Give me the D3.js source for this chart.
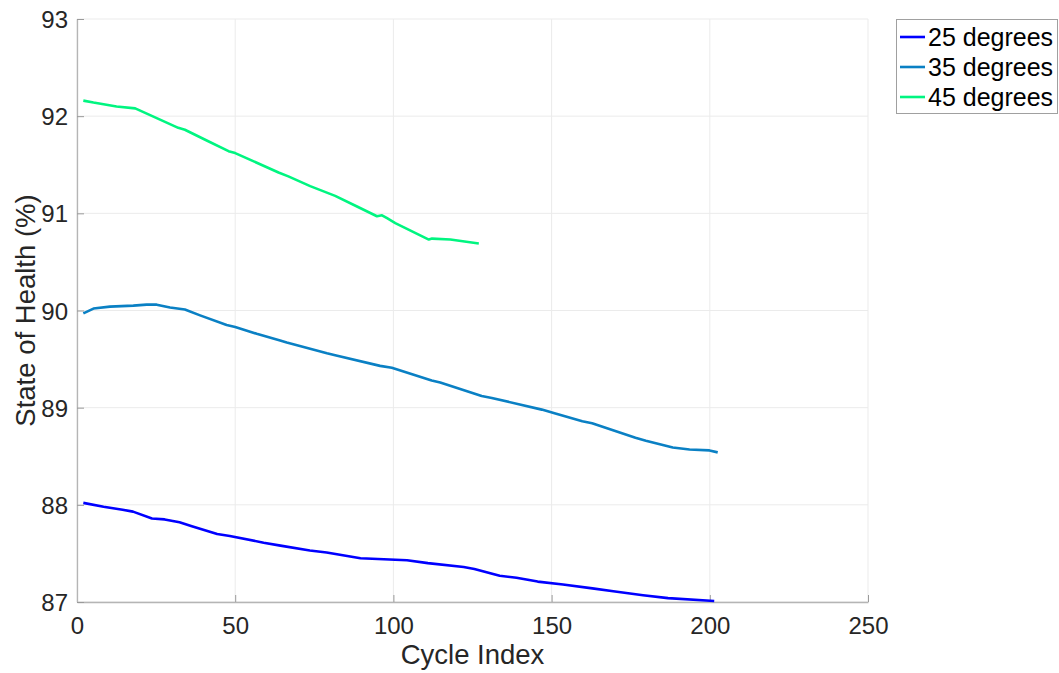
<!DOCTYPE html>
<html lang="en">
<head>
  <meta charset="utf-8" />
  <script src="https://d3js.org/d3.v7.min.js"></script>
  <style>
    html, body { margin: 0; padding: 0; background: #fff; }
    text { font-family: "Liberation Sans", Arial, sans-serif; }
  </style>
</head>
<body>
<svg id="canvas" width="1059" height="673"></svg>
<script>
// cycle index / state of health (%)
var cyc25 = [2, 8.4, 14.4, 17.7, 23.7, 27.7, 32.4, 36.3, 44.3, 48.3, 59, 64.3, 73.6, 78.9, 89.6, 104.3, 110.9, 122.2, 125.6, 133.6, 138.9, 145.6, 153.6, 162.9, 169.5, 178.9, 186.8, 201.4];
var soh25 = [88.02, 87.98, 87.95, 87.93, 87.86, 87.85, 87.82, 87.78, 87.70, 87.68, 87.61, 87.58, 87.53, 87.51, 87.45, 87.43, 87.40, 87.36, 87.34, 87.27, 87.25, 87.21, 87.18, 87.14, 87.11, 87.07, 87.04, 87.01];

var cyc35 = [2, 5.2, 10.4, 17.8, 22, 25.2, 29.4, 34.1, 38.9, 47.3, 50, 56.8, 64.2, 66.3, 79, 81.6, 95.8, 99.5, 112.1, 114.8, 127.9, 131.1, 146.9, 151.2, 159.7, 162.8, 176.5, 179.8, 188.3, 193.6, 199.9, 202.5];
var soh35 = [89.97, 90.02, 90.04, 90.05, 90.06, 90.06, 90.03, 90.01, 89.95, 89.85, 89.83, 89.76, 89.69, 89.67, 89.56, 89.54, 89.43, 89.41, 89.28, 89.26, 89.12, 89.10, 88.98, 88.94, 88.86, 88.84, 88.69, 88.66, 88.59, 88.57, 88.56, 88.54];

var cyc45 = [2, 5.2, 12.5, 18.4, 32, 34.1, 41, 47.9, 50, 63.7, 66.8, 73.7, 81.6, 88.5, 94.8, 96.4, 98, 100.6, 111.2, 112.2, 118, 127];
var soh45 = [92.16, 92.14, 92.10, 92.08, 91.88, 91.86, 91.75, 91.64, 91.62, 91.42, 91.38, 91.28, 91.18, 91.07, 90.97, 90.98, 90.95, 90.90, 90.73, 90.74, 90.73, 90.69];

var seriesNames = ["25 degrees", "35 degrees", "45 degrees"];
var seriesColors = ["#0000ff", "#0a80c4", "#00f580"];
var xTicks = [0, 50, 100, 150, 200, 250];
var yTicks = [87, 88, 89, 90, 91, 92, 93];

var series = [
  { name: seriesNames[0], color: seriesColors[0], x: cyc25, y: soh25 },
  { name: seriesNames[1], color: seriesColors[1], x: cyc35, y: soh35 },
  { name: seriesNames[2], color: seriesColors[2], x: cyc45, y: soh45 }
];

var svg = d3.select("#canvas");
var pLeft = 77, pRight = 868, pTop = 19, pBottom = 602;

var x = d3.scaleLinear().domain([0, 250]).range([pLeft, pRight]);
var y = d3.scaleLinear().domain([87, 93]).range([pBottom, pTop]);

// grid
var grid = svg.append("g");
grid.selectAll(".gx").data(xTicks).enter().append("line")
  .attr("x1", d => x(d)).attr("x2", d => x(d))
  .attr("y1", pTop).attr("y2", pBottom)
  .attr("stroke", "#ebebeb").attr("stroke-width", 1);
grid.selectAll(".gy").data(yTicks).enter().append("line")
  .attr("x1", pLeft).attr("x2", pRight)
  .attr("y1", d => y(d)).attr("y2", d => y(d))
  .attr("stroke", "#ebebeb").attr("stroke-width", 1);

// axes, ticks pointing in
var xAxis = svg.append("g").attr("transform", "translate(0," + pBottom + ")")
  .call(d3.axisBottom(x).tickValues(xTicks).tickFormat(d3.format("d"))
    .tickSizeInner(-7).tickSizeOuter(0).tickPadding(14));
var yAxis = svg.append("g").attr("transform", "translate(" + pLeft + ",0)")
  .call(d3.axisLeft(y).tickValues(yTicks).tickFormat(d3.format("d"))
    .tickSizeInner(-7).tickSizeOuter(0).tickPadding(9));
[xAxis, yAxis].forEach(function(a) {
  a.select(".domain").attr("stroke", "#b5b5b5").attr("stroke-width", 1.3);
  a.selectAll(".tick line").attr("stroke", "#9a9a9a").attr("stroke-width", 1);
  a.selectAll(".tick text").attr("fill", "#262626").style("font-size", "24px")
    .style("font-family", "'Liberation Sans', Arial, sans-serif");
});
xAxis.selectAll(".tick text").attr("dy", "0.75em");
yAxis.selectAll(".tick text").attr("dy", "0.36em");

// lines
var line = d3.line().x(d => x(d[0])).y(d => y(d[1]));
svg.append("g").selectAll("path").data(series).enter().append("path")
  .attr("d", s => line(s.x.map((c, i) => [c, s.y[i]])))
  .attr("fill", "none")
  .attr("stroke", s => s.color)
  .attr("stroke-width", 2.6)
  .attr("stroke-linejoin", "round");

// axis labels
svg.append("text").attr("x", (pLeft + pRight) / 2).attr("y", 664)
  .attr("text-anchor", "middle").attr("fill", "#262626").style("font-size", "27.5px")
  .text("Cycle Index");
svg.append("text").attr("transform", "translate(35," + ((pTop + pBottom) / 2) + ") rotate(-90)")
  .attr("text-anchor", "middle").attr("fill", "#262626").style("font-size", "27.5px")
  .text("State of Health (%)");

// legend
var lg = svg.append("g");
lg.append("rect").attr("x", 896.5).attr("y", 19.5).attr("width", 161).attr("height", 94)
  .attr("fill", "#fff").attr("stroke", "#a0a0a0").attr("stroke-width", 1);
var item = lg.selectAll(".item").data(series).enter().append("g")
  .attr("transform", (d, i) => "translate(0," + (37 + i * 30) + ")");
item.append("line").attr("x1", 900).attr("x2", 925).attr("y1", 0).attr("y2", 0)
  .attr("stroke", d => d.color).attr("stroke-width", 2.6);
item.append("text").attr("x", 928).attr("y", 0).attr("dy", "0.36em")
  .attr("fill", "#000").style("font-size", "25px")
  .text(d => d.name);
</script>
</body>
</html>
